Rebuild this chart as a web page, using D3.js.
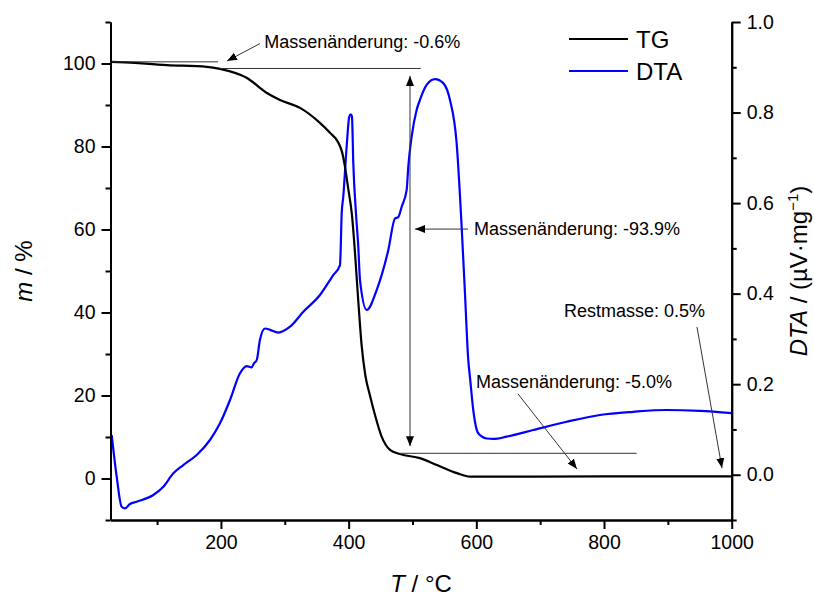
<!DOCTYPE html>
<html><head><meta charset="utf-8">
<script src="https://cdn.jsdelivr.net/npm/d3@7"></script>
<style>
html,body{margin:0;padding:0;background:#fff;}
text{font-family:"Liberation Sans",Arial,sans-serif;fill:#000;}
</style></head>
<body>
<svg id="chart" width="814" height="597"></svg>
<script>
// ---- data ----
const tgT = [27, 27.8, 115.5, 178, 198.5, 240.8, 272, 292.5, 323.8, 355, 370.8, 383.3, 389.6, 394.3, 399, 405.2, 409.9, 415, 420.4, 426, 433.4, 441.3, 451.7, 464.8, 480.4, 511.7, 538.4, 569.7, 590, 650, 800, 900, 1000];
const tgM = [100.4, 100.4, 99.6, 99.2, 98.7, 96.5, 92.9, 91.2, 89.3, 85.7, 83.3, 81.1, 78.7, 75.1, 70.2, 63.5, 54.5, 43.0, 32.0, 25.0, 20.0, 15.3, 10.1, 6.9, 5.9, 4.9, 3.25, 1.3, 0.45, 0.45, 0.5, 0.5, 0.5];

const dtaT = [28.9, 36.7, 44.5, 49.7, 57.5, 68.0, 94.0, 109.7, 125.4, 141.0, 162.0, 182.8, 198.5, 214.2, 229.8, 240.3, 248.1, 251.7, 256.0, 261.1, 269.0, 276.8, 289.8, 308.2, 329.0, 355.1, 375.9, 386.5, 387.5, 389.1, 391.6, 396.9, 401.0, 403.2, 405.2, 407.3, 411.5, 415.1, 417.8, 428.3, 443.9, 462.1, 472.6, 477.7, 483.1, 490.9, 493.4, 498.7, 506.6, 511.7, 522.2, 535.2, 548.2, 558.7, 569.2, 577.0, 582.2, 587.4, 590.0, 595.2, 603.0, 616.2, 626.5, 647.5, 689.2, 741.5, 793.6, 845.8, 898.1, 950.3, 1000];
const dtaV = [0.0877, -0.0044, -0.0707, -0.0742, -0.0647, -0.0596, -0.0448, -0.0265, 0.0031, 0.0214, 0.0435, 0.0767, 0.1135, 0.165, 0.224, 0.240, 0.237, 0.246, 0.253, 0.298, 0.323, 0.320, 0.314, 0.327, 0.360, 0.397, 0.441, 0.463, 0.496, 0.577, 0.614, 0.725, 0.791, 0.796, 0.791, 0.688, 0.577, 0.504, 0.430, 0.364, 0.408, 0.496, 0.566, 0.569, 0.592, 0.629, 0.680, 0.747, 0.806, 0.828, 0.861, 0.874, 0.865, 0.828, 0.732, 0.548, 0.401, 0.253, 0.216, 0.143, 0.0915, 0.080, 0.079, 0.084, 0.0987, 0.117, 0.132, 0.139, 0.143, 0.141, 0.136];

const xMajor = [200, 400, 600, 800, 1000];
const xMinor = [100, 300, 500, 700, 900];
const yLeftMajor = [0, 20, 40, 60, 80, 100];
const yLeftMinor = [-10, 10, 30, 50, 70, 90, 110];
const yRightMajor = [0.0, 0.2, 0.4, 0.6, 0.8, 1.0];
const yRightMinor = [-0.1, 0.1, 0.3, 0.5, 0.7, 0.9];

const seriesNames = ["TG", "DTA"];
const seriesColors = ["#000000", "#0000ff"];

// annotations in data coordinates (T, m%)
const refLines = [
  [[27, 100.4], [195.4, 100.4]],
  [[198.5, 98.8], [513, 98.8]],
  [[480.4, 6.07], [851, 6.07]]
];
const arrows = [
  {from: [261.1, 104.8], to: [209.5, 100.6], both: false},
  {from: [496.1, 7.8], to: [496.1, 97.0], both: true},
  {from: [587.0, 60.1], to: [503.9, 60.1], both: false},
  {from: [665.2, 20.4], to: [757.6, 2.3], both: false},
  {from: [945.6, 36.5], to: [984.8, 2.5], both: false}
];
const labels = [
  {text: "Massenänderung: -0.6%", at: [267.8, 103.7]},
  {text: "Massenänderung: -93.9%", at: [596.3, 58.7]},
  {text: "Massenänderung: -5.0%", at: [599.4, 21.8]},
  {text: "Restmasse: 0.5%", at: [737.2, 39.0]}
];

// ---- layout ----
const L = 110.5, R = 731.7, T = 22, B = 520;
const svg = d3.select("#chart");
const x = d3.scaleLinear().domain([27, 1000]).range([L, R]);
const yL = d3.scaleLinear().domain([-10, 110]).range([B, T]);
const yR = d3.scaleLinear().domain([-0.1, 1.0]).range([B, T]);

const defs = svg.append("defs");
defs.append("marker").attr("id", "ah").attr("viewBox", "0 0 10 10")
  .attr("refX", 10).attr("refY", 5).attr("markerWidth", 10).attr("markerHeight", 10)
  .attr("markerUnits", "userSpaceOnUse").attr("orient", "auto-start-reverse")
  .append("path").attr("d", "M0,1 L10,5 L0,9 Z").attr("fill", "#000");

// curves
const lineTG = d3.line().x((d, i) => x(tgT[i])).y((d, i) => yL(tgM[i])).curve(d3.curveMonotoneX);
const lineDTA = d3.line().x((d, i) => x(dtaT[i])).y((d, i) => yR(dtaV[i])).curve(d3.curveMonotoneX);

svg.append("path").attr("d", lineDTA(dtaT)).attr("fill", "none")
  .attr("stroke", seriesColors[1]).attr("stroke-width", 2.2);
svg.append("path").attr("d", lineTG(tgT)).attr("fill", "none")
  .attr("stroke", seriesColors[0]).attr("stroke-width", 2.2);

// annotation lines
refLines.forEach(l => {
  svg.append("line").attr("x1", x(l[0][0])).attr("y1", yL(l[0][1]))
    .attr("x2", x(l[1][0])).attr("y2", yL(l[1][1]))
    .attr("stroke", "#333").attr("stroke-width", 1);
});
arrows.forEach(a => {
  const ln = svg.append("line").attr("x1", x(a.from[0])).attr("y1", yL(a.from[1]))
    .attr("x2", x(a.to[0])).attr("y2", yL(a.to[1]))
    .attr("stroke", "#333").attr("stroke-width", 1)
    .attr("marker-end", "url(#ah)");
  if (a.both) ln.attr("marker-start", "url(#ah)");
});
labels.forEach(l => {
  svg.append("text").attr("x", x(l.at[0])).attr("y", yL(l.at[1]))
    .attr("font-size", 18).text(l.text);
});

// axes
function styleAxis(g) {
  g.select(".domain").attr("stroke", "#000").attr("stroke-width", 2);
  g.selectAll(".tick line").attr("stroke", "#000").attr("stroke-width", 2);
  g.selectAll(".tick text").attr("font-size", 19.5).attr("font-family", '"Liberation Sans",Arial,sans-serif');
}
const gxMin = svg.append("g").attr("transform", `translate(0,${B})`)
  .call(d3.axisBottom(x).tickValues(xMinor).tickSize(5).tickFormat("").tickSizeOuter(0));
styleAxis(gxMin);
const gx = svg.append("g").attr("transform", `translate(0,${B})`)
  .call(d3.axisBottom(x).tickValues(xMajor).tickSize(9).tickPadding(6).tickSizeOuter(0).tickFormat(d3.format("d")));
styleAxis(gx);

const gyMin = svg.append("g").attr("transform", `translate(${L},0)`)
  .call(d3.axisLeft(yL).tickValues(yLeftMinor).tickSize(5).tickFormat("").tickSizeOuter(0));
styleAxis(gyMin);
const gy = svg.append("g").attr("transform", `translate(${L},0)`)
  .call(d3.axisLeft(yL).tickValues(yLeftMajor).tickSize(9).tickPadding(6).tickSizeOuter(0).tickFormat(d3.format("d")));
styleAxis(gy);

const gyrMin = svg.append("g").attr("transform", `translate(${R},0)`)
  .call(d3.axisRight(yR).tickValues(yRightMinor).tickSize(5).tickFormat("").tickSizeOuter(0));
styleAxis(gyrMin);
const gyr = svg.append("g").attr("transform", `translate(${R},0)`)
  .call(d3.axisRight(yR).tickValues(yRightMajor).tickSize(9).tickPadding(6).tickSizeOuter(0).tickFormat(d3.format(".1f")));
styleAxis(gyr);

// axis titles
const xt = svg.append("text").attr("x", (L + R) / 2).attr("y", 592)
  .attr("text-anchor", "middle").attr("font-size", 24);
xt.append("tspan").attr("font-style", "italic").text("T");
xt.append("tspan").text(" / °C");

const ylt = svg.append("text").attr("transform", `translate(32,${(T + B) / 2}) rotate(-90)`)
  .attr("text-anchor", "middle").attr("font-size", 24);
ylt.append("tspan").attr("font-style", "italic").text("m");
ylt.append("tspan").text(" / %");

const yrt = svg.append("text").attr("transform", `translate(807,${(T + B) / 2}) rotate(-90)`)
  .attr("text-anchor", "middle").attr("font-size", 24);
yrt.append("tspan").attr("font-style", "italic").text("DTA");
yrt.append("tspan").text(" / (µV·mg");
yrt.append("tspan").attr("font-size", 15).attr("dy", -9).text("−1");
yrt.append("tspan").attr("dy", 9).text(")");

// legend
const legY = [39, 71];
seriesNames.forEach((n, i) => {
  svg.append("line").attr("x1", 569).attr("x2", 628).attr("y1", legY[i]).attr("y2", legY[i])
    .attr("stroke", seriesColors[i]).attr("stroke-width", 2);
  svg.append("text").attr("x", 636).attr("y", legY[i] + 9).attr("font-size", 24).text(n);
});
</script>
</body></html>
